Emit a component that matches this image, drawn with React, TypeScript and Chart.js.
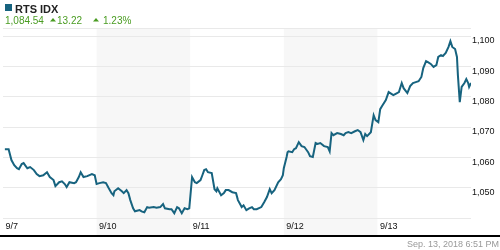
import { useEffect, useRef } from 'react';
import { Chart, registerables } from 'chart.js';

Chart.register(...registerables);

// ---- data ----
const dayLabels = ['9/7', '9/10', '9/11', '9/12', '9/13'];
const dayTicks = [0, 1, 2, 3, 4];
const shadedDays = [1, 3];
const yGridValues = [1040, 1050, 1060, 1070, 1080, 1090, 1100];
const yLabeledValues = [1050, 1060, 1070, 1080, 1090, 1100];

const times = [
  0.02, 0.06, 0.09, 0.12, 0.15, 0.17, 0.2, 0.22, 0.26, 0.29, 0.33, 0.36, 0.39, 0.43, 0.47, 0.5, 0.54, 0.56, 0.6, 0.63,
  0.66, 0.68, 0.71, 0.76, 0.78, 0.81, 0.83, 0.86, 0.9, 0.95, 0.98,
  1.0, 1.03, 1.07, 1.1, 1.13, 1.16, 1.18, 1.19, 1.23, 1.27, 1.29, 1.32, 1.34, 1.36, 1.39, 1.41, 1.46, 1.48, 1.51, 1.54,
  1.56, 1.61, 1.64, 1.68, 1.71, 1.73, 1.78, 1.8, 1.83, 1.86, 1.88, 1.91, 1.94, 1.97, 1.99,
  2.02, 2.05, 2.07, 2.11, 2.13, 2.15, 2.17, 2.19, 2.23, 2.26, 2.28, 2.29, 2.33, 2.36, 2.38, 2.41, 2.45, 2.49, 2.51, 2.54,
  2.55, 2.57, 2.6, 2.63, 2.66, 2.68, 2.71, 2.76, 2.79, 2.82, 2.85, 2.87, 2.9, 2.94, 2.97, 2.99,
  3.0, 3.03, 3.04, 3.05, 3.09, 3.11, 3.13, 3.16, 3.19, 3.22, 3.26, 3.28, 3.31, 3.34, 3.36, 3.39, 3.43, 3.47, 3.49, 3.51,
  3.53, 3.57, 3.61, 3.64, 3.66, 3.69, 3.72, 3.76, 3.79, 3.82, 3.85, 3.87, 3.89, 3.93, 3.96, 3.98,
  4.01, 4.03, 4.05, 4.09, 4.12, 4.15, 4.17, 4.21, 4.23, 4.26, 4.28, 4.32, 4.35, 4.38, 4.41, 4.44, 4.47, 4.49, 4.52, 4.54,
  4.57, 4.6, 4.63, 4.65, 4.68, 4.7, 4.73, 4.76, 4.78, 4.8, 4.83, 4.85, 4.86, 4.88, 4.9, 4.93, 4.95, 4.97, 4.98, 5.0,
];

const values = [
  1062.7, 1062.7, 1059.1, 1057.4, 1056.4, 1056.1, 1057.8, 1058.1, 1056.4, 1056.8, 1055.8, 1054.5, 1053.8, 1054.1, 1055.1,
  1053.5, 1052.5, 1050.5, 1051.8, 1052.1, 1051.2, 1050.2, 1051.8, 1051.5, 1051.8, 1053.5, 1055.1, 1053.5, 1053.8, 1054.5,
  1054.1,
  1051.2, 1051.5, 1051.8, 1051.5, 1049.8, 1048.2, 1047.5, 1048.8, 1049.8, 1048.8, 1048.2, 1049.2, 1048.2, 1045.9, 1043.2,
  1042.2, 1042.6, 1042.2, 1041.9, 1043.6, 1043.4, 1043.6, 1043.4, 1043.6, 1044.6, 1043.2, 1042.9, 1042.9, 1041.6, 1043.6,
  1043.2, 1041.6, 1043.2, 1042.9, 1043.2,
  1053.5, 1051.8, 1051.5, 1052.5, 1054.1, 1055.8, 1056.1, 1055.1, 1054.8, 1049.5, 1048.8, 1049.8, 1047.5, 1048.2, 1049.2,
  1049.2, 1048.5, 1048.2, 1045.9, 1044.2, 1043.6, 1044.2, 1042.6, 1043.2, 1043.6, 1042.9, 1042.9, 1043.6, 1045.2, 1046.9,
  1049.5, 1048.2, 1049.2, 1051.8, 1052.8, 1054.1,
  1056.4, 1060.1, 1061.7, 1062.0, 1061.7, 1062.7, 1063.0, 1065.0, 1063.7, 1063.4, 1061.7, 1060.4, 1060.1, 1064.7, 1064.4,
  1064.7, 1063.7, 1063.4, 1062.0, 1068.0, 1067.3, 1068.0, 1067.7, 1067.3, 1068.0, 1068.3, 1068.0, 1068.6, 1069.0, 1068.3,
  1065.7, 1067.7, 1067.0, 1068.3, 1073.9, 1072.3,
  1071.6, 1075.9, 1076.9, 1078.9, 1081.5, 1080.9, 1080.5, 1081.2, 1081.5, 1084.5, 1082.8, 1081.2, 1083.5, 1084.5, 1084.8,
  1085.1, 1086.5, 1089.4, 1091.7, 1091.4, 1090.8, 1089.8, 1090.4, 1093.1, 1093.7, 1093.4, 1094.4, 1096.4, 1098.3, 1096.4,
  1095.7, 1093.1, 1087.1, 1078.2, 1083.2, 1084.5, 1085.8, 1084.5, 1083.2, 1084.5,
];

const indexName = 'RTS IDX';
const lastPrice = '1,084.54';
const netChange = '13.22';
const pctChange = '1.23%';
const timestamp = 'Sep. 13, 2018 6:51 PM';

const FONT = "'Liberation Sans', Arial, sans-serif";
const LINE_COLOR = '#17637f';
const GREEN = '#4a9c22';
const Y_MIN = 1034.4;
const Y_MAX = 1102.64;

const decorPlugin = {
  id: 'decor',
  beforeDraw(chart: any) {
    const { ctx, chartArea, scales } = chart;
    const x = scales.x;
    ctx.save();
    ctx.fillStyle = '#ffffff';
    ctx.fillRect(0, 0, chart.width, chart.height);
    ctx.fillStyle = '#f7f7f7';
    shadedDays.forEach((d) => {
      const x0 = x.getPixelForValue(d);
      const x1 = x.getPixelForValue(d + 1);
      ctx.fillRect(x0, chartArea.top, x1 - x0, chartArea.bottom - chartArea.top);
    });
    ctx.restore();
  },
  afterDraw(chart: any) {
    const { ctx, chartArea } = chart;
    ctx.save();
    // bottom black rule
    ctx.fillStyle = '#000000';
    ctx.fillRect(0, chartArea.bottom, chart.width, 2);

    // header icon + name
    ctx.fillStyle = LINE_COLOR;
    ctx.fillRect(5, 4, 7, 7);
    ctx.fillStyle = '#222222';
    ctx.font = `bold 11px ${FONT}`;
    ctx.textAlign = 'left';
    ctx.textBaseline = 'alphabetic';
    ctx.fillText(indexName, 15, 13);

    // green quote line
    ctx.fillStyle = GREEN;
    ctx.font = `10px ${FONT}`;
    ctx.fillText(lastPrice, 5, 24);
    const tri = (x0: number) => {
      ctx.beginPath();
      ctx.moveTo(x0, 21.5);
      ctx.lineTo(x0 + 6, 21.5);
      ctx.lineTo(x0 + 3, 18);
      ctx.closePath();
      ctx.fill();
    };
    tri(50);
    ctx.fillText(netChange, 57, 24);
    tri(93);
    ctx.fillText(pctChange, 103, 24);

    // timestamp
    ctx.fillStyle = '#999999';
    ctx.font = `9px ${FONT}`;
    ctx.textAlign = 'right';
    ctx.fillText(timestamp, 499, 247);
    ctx.restore();
  },
};

export default function App() {
  const canvasRef = useRef<HTMLCanvasElement | null>(null);

  useEffect(() => {
    document.body.style.margin = '0';
    const canvas = canvasRef.current;
    if (!canvas) return;
    const points = times.map((t, i) => ({ x: t, y: values[i] }));
    const chart = new Chart(canvas, {
      type: 'line',
      data: {
        datasets: [
          {
            data: points,
            borderColor: LINE_COLOR,
            borderWidth: 2,
            pointRadius: 0,
            tension: 0,
            fill: false,
          },
        ],
      },
      options: {
        animation: false,
        responsive: false,
        maintainAspectRatio: false,
        layout: { padding: { top: 28, left: 1, right: 0, bottom: 0 } },
        plugins: {
          legend: { display: false },
          tooltip: { enabled: false },
          title: { display: false },
        },
        scales: {
          x: {
            type: 'linear',
            position: 'bottom',
            min: 0,
            max: 5,
            afterBuildTicks: (scale: any) => {
              scale.ticks = dayTicks.map((v) => ({ value: v }));
            },
            afterFit: (scale: any) => {
              scale.height = 15;
            },
            grid: { display: false, drawTicks: false },
            border: { display: false },
            ticks: {
              autoSkip: false,
              maxRotation: 0,
              minRotation: 0,
              mirror: true,
              align: 'start',
              labelOffset: 2.5,
              padding: 3,
              color: '#111111',
              font: { family: FONT, size: 9 },
              callback: (_v: any, i: number) => dayLabels[i],
            },
          },
          y: {
            type: 'linear',
            position: 'right',
            min: Y_MIN,
            max: Y_MAX,
            afterBuildTicks: (scale: any) => {
              scale.ticks = [...yGridValues, Y_MAX].map((v) => ({ value: v }));
            },
            afterFit: (scale: any) => {
              scale.width = 29;
            },
            grid: { color: '#e9e9e9', drawTicks: false, lineWidth: 1 },
            border: { display: false },
            ticks: {
              padding: 1,
              labelOffset: 5,
              color: '#111111',
              font: { family: FONT, size: 9 },
              callback: (v: any) =>
                yLabeledValues.includes(Number(v)) ? Number(v).toLocaleString('en-US') : '',
            },
          },
        },
      },
      plugins: [decorPlugin],
    } as any);
    return () => chart.destroy();
  }, []);

  return (
    <div style={{ width: 500, height: 250 }}>
      <canvas ref={canvasRef} width={500} height={250} style={{ display: 'block' }} />
    </div>
  );
}
